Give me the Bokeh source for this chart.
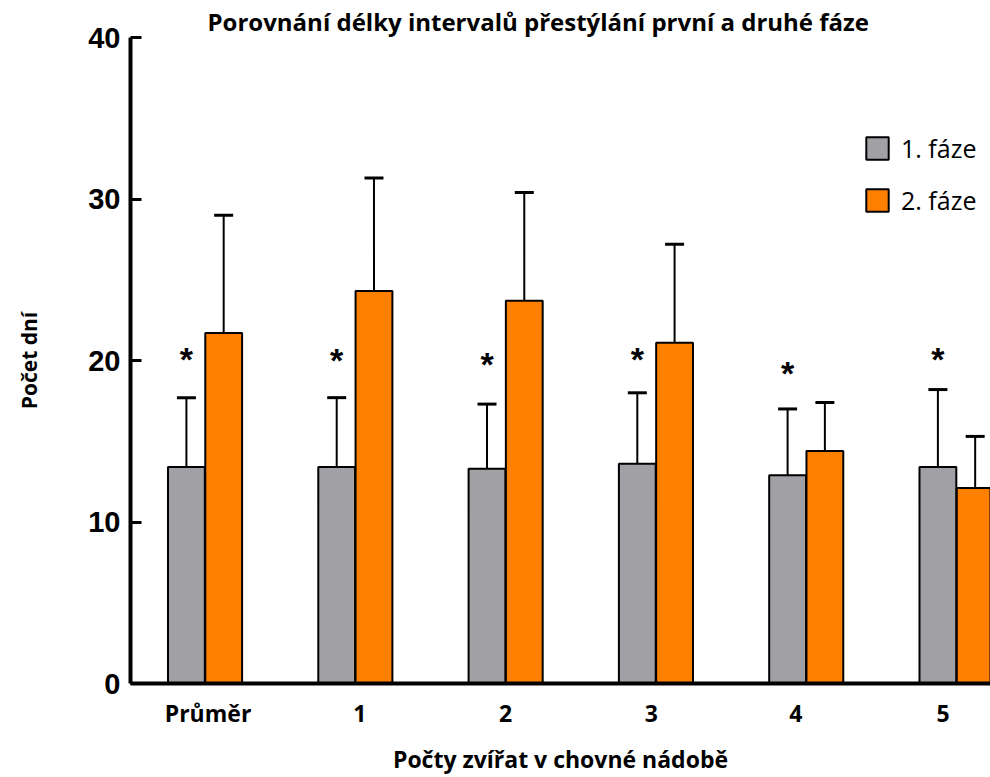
from bokeh.plotting import figure
from bokeh.models import (ColumnDataSource, Range1d, FixedTicker, Whisker, TeeHead,
                          Legend, LegendItem, Title)
from bokeh.core.properties import value
from bokeh.embed import file_html
from bokeh.resources import INLINE

categories = ["Průměr", "1", "2", "3", "4", "5"]
label_pos = [0.02, 1.03, 2.0, 2.97, 3.93, 4.91]
faze1 = [13.4, 13.4, 13.3, 13.6, 12.9, 13.4]
faze1_sd = [4.3, 4.3, 4.0, 4.4, 4.1, 4.8]
faze2 = [21.7, 24.3, 23.7, 21.1, 14.4, 12.1]
faze2_sd = [7.3, 7.0, 6.7, 6.1, 3.0, 3.2]
star_y = [20.3, 20.2, 20.0, 20.3, 19.4, 20.3]

GRAY = "#A1A0A5"
ORANGE = "#FF8000"
off = 0.124
bw = 0.245

xs = list(range(len(categories)))
x1 = [x - off for x in xs]
x2 = [x + off for x in xs]

s1 = ColumnDataSource(dict(x=x1, top=faze1, up=[a + b for a, b in zip(faze1, faze1_sd)]))
s2 = ColumnDataSource(dict(x=x2, top=faze2, up=[a + b for a, b in zip(faze2, faze2_sd)]))
ss = ColumnDataSource(dict(x=x1, y=star_y, t=["*"] * len(xs)))

p = figure(width=990, height=777, output_backend="svg", toolbar_location=None,
           x_range=Range1d(-0.496, 5.226), y_range=Range1d(0, 40),
           min_border_left=130, min_border_right=0, min_border_top=37, min_border_bottom=94)
p.title = None
t = Title(text="Porovnání délky intervalů přestýlání první a druhé fáze", align="left",
          offset=77, text_font="Open Sans", text_font_size="24px", text_font_style="bold",
          text_color="black", standoff=0)
p.add_layout(t, "above")

p.grid.visible = False
p.outline_line_color = None
p.background_fill_color = "white"
p.border_fill_color = "white"

r1 = p.vbar(x="x", top="top", width=bw, source=s1, fill_color=GRAY, line_color="black", line_width=2)
r2 = p.vbar(x="x", top="top", width=bw, source=s2, fill_color=ORANGE, line_color="black", line_width=2)

for src in (s1, s2):
    w = Whisker(base="x", upper="up", lower="top", source=src, line_width=2, line_color="black",
                upper_head=TeeHead(size=19, line_width=3, line_color="black"), lower_head=None)
    p.add_layout(w)

p.text(x="x", y="y", text="t", source=ss, text_font=value("Liberation Sans"),
       text_font_style="bold", text_font_size="34px", text_align="center",
       text_baseline="middle", text_color="black", y_offset=3)

# y axis
ya = p.yaxis[0]
ya.ticker = FixedTicker(ticks=[0, 10, 20, 30, 40])
ya.axis_line_width = 4
ya.major_tick_line_width = 3
ya.major_tick_in = 11
ya.major_tick_out = 0
ya.minor_tick_line_color = None
ya.major_label_text_font = "Liberation Sans"
ya.major_label_text_font_style = "bold"
ya.major_label_text_font_size = "29px"
ya.major_label_text_color = "black"
ya.major_label_standoff = 10
ya.axis_label = "Počet dní"
ya.axis_label_text_font = "Open Sans"
ya.axis_label_text_font_style = "bold"
ya.axis_label_text_font_size = "21px"
ya.axis_label_text_color = "black"
ya.axis_label_standoff = 42

# x axis
xa = p.xaxis[0]
xa.ticker = FixedTicker(ticks=label_pos)
xa.major_label_overrides = {pos: c for pos, c in zip(label_pos, categories)}
xa.axis_line_width = 4
xa.major_tick_line_color = None
xa.minor_tick_line_color = None
xa.major_label_text_font = "Open Sans"
xa.major_label_text_font_style = "bold"
xa.major_label_text_font_size = "23px"
xa.major_label_text_color = "black"
xa.major_label_standoff = 7
xa.axis_label = "Počty zvířat v chovné nádobě"
xa.axis_label_text_font = "Open Sans"
xa.axis_label_text_font_style = "bold"
xa.axis_label_text_font_size = "23px"
xa.axis_label_text_color = "black"
xa.axis_label_standoff = 11

legend = Legend(items=[LegendItem(label="1. fáze", renderers=[r1]),
                       LegendItem(label="2. fáze", renderers=[r2])],
                location=(733, 466), glyph_width=28, glyph_height=28, spacing=18,
                label_standoff=10, padding=0, margin=0, border_line_color=None,
                background_fill_alpha=0, label_text_font="Open Sans", label_text_font_size="25px",
                label_text_color="black")
p.add_layout(legend)

open("out.html", "w").write(file_html(p, INLINE))
